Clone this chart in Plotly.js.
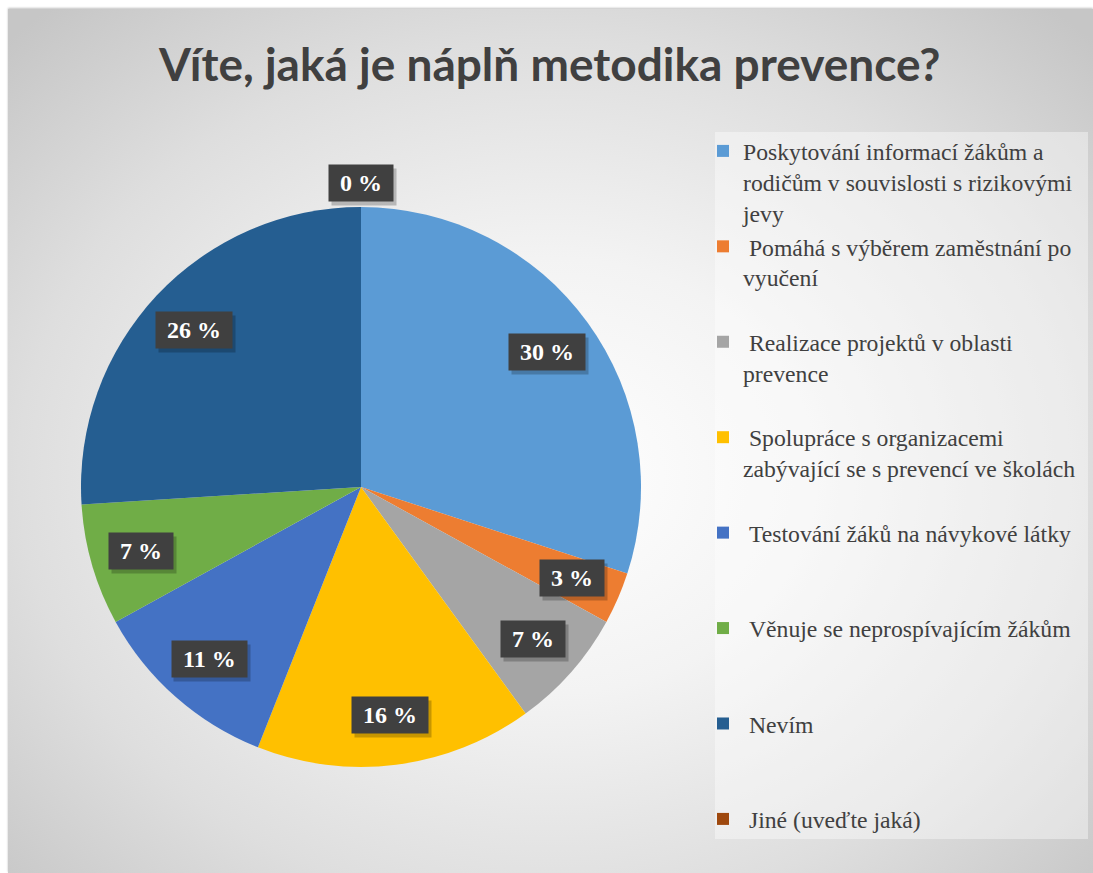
<!DOCTYPE html>
<html>
<head>
<meta charset="utf-8">
<script src="https://cdn.plot.ly/plotly-3.0.1.min.js"></script>
<style>
  html, body { margin: 0; padding: 0; background: #ffffff; }
  #bg {
    position: absolute; left: 8px; top: 9px; width: 1085px; height: 864px;
    background: radial-gradient(ellipse 70% 72% at 50% 54%, #ffffff 0%, #f3f3f3 35%, #dedede 70%, #c6c6c6 100%);
    box-shadow: 0 -1px 2px rgba(0,0,0,0.25);
  }
  #chart { position: absolute; left: 0; top: 0; width: 1093px; height: 873px; }
</style>
</head>
<body>
<div id="bg"></div>
<div id="chart"></div>
<script>
// ---- data ----
var categories = [
  "Poskytování informací žákům a<br>rodičům v souvislosti s rizikovými<br>jevy",
  "\u00a0Pomáhá s výběrem zaměstnání po<br>vyučení",
  "\u00a0Realizace projektů v oblasti<br>prevence",
  "\u00a0Spolupráce s organizacemi<br>zabývající se s prevencí ve školách",
  "\u00a0Testování žáků na návykové látky",
  "\u00a0Věnuje se neprospívajícím žákům",
  "\u00a0Nevím",
  "\u00a0Jiné (uveďte jaká)"
];
var values = [30, 3, 7, 16, 11, 7, 26, 0];
var colors = ["#5B9BD5", "#ED7D31", "#A5A5A5", "#FFC000", "#4472C4", "#70AD47", "#255E91", "#9E480E"];
var titleText = "Víte, jaká je náplň metodika prevence?";

// ---- layout geometry ----
var W = 1093, H = 873;
var cxPx = 361, cyPx = 487, R = 280;
var domX = [(cxPx - R) / W, (cxPx + R) / W];
var domY = [1 - (cyPx + R) / H, 1 - (cyPx - R) / H];

// pad legend entries (all but the last) to equal line counts so spacing is even
var maxLines = 3;
var legendLabels = categories.map(function (c, idx) {
  if (idx === categories.length - 1) return c;
  var n = c.split("<br>").length;
  var s = c;
  for (var i = n; i < maxLines; i++) s += "<br>\u00a0";
  return s;
});

// data label annotations placed along slice mid-angles
var total = values.reduce(function (a, b) { return a + b; }, 0);
var annotations = [];
var cum = 0;
values.forEach(function (v) {
  var mid = (cum + v / 2) / total;
  cum += v;
  var th = 2 * Math.PI * mid;
  var f = v > 0 ? 0.82 : 1.085;
  var px = cxPx + f * R * Math.sin(th);
  var py = cyPx - f * R * Math.cos(th);
  var txt = "\u00a0" + v + " %\u00a0";
  // blank spacer of equal width, used only for the box shadow
  var blank = txt.replace(/[0-9]/g, "\u2007").replace("%", "\u2007\u2007").replace(" ", "\u00a0");
  annotations.push({
    xref: "paper", yref: "paper", x: px / W, y: 1 - py / H,
    xanchor: "center", yanchor: "middle",
    xshift: 3, yshift: -4,
    text: blank, showarrow: false,
    font: { family: "Liberation Serif", size: 24, color: "rgba(0,0,0,0)", weight: 700 },
    bgcolor: "rgba(0,0,0,0.22)", borderpad: 5
  });
  annotations.push({
    xref: "paper", yref: "paper", x: px / W, y: 1 - py / H,
    xanchor: "center", yanchor: "middle",
    text: txt, showarrow: false,
    font: { family: "Liberation Serif", size: 24, color: "#ffffff", weight: 700 },
    bgcolor: "#404040", borderpad: 5
  });
});

var trace = {
  type: "pie",
  labels: legendLabels,
  values: values,
  sort: false,
  direction: "clockwise",
  rotation: 0,
  marker: { colors: colors, line: { width: 0 } },
  textinfo: "none",
  hoverinfo: "label+percent",
  domain: { x: domX, y: domY }
};

var layout = {
  width: W, height: H,
  margin: { l: 0, r: 0, t: 0, b: 0, autoexpand: false },
  paper_bgcolor: "rgba(0,0,0,0)",
  plot_bgcolor: "rgba(0,0,0,0)",
  title: {
    text: titleText,
    x: 0.503, xanchor: "center",
    y: 1 - 65 / H, yanchor: "middle",
    font: { family: "Lato", size: 46, color: "#404040", weight: 700 }
  },
  showlegend: true,
  legend: {
    x: 703 / W, xanchor: "left",
    y: 1 - 129 / H, yanchor: "top",
    bgcolor: "rgba(0,0,0,0)",
    valign: "top",
    maxheight: 2000,
    font: { family: "Liberation Serif", size: 23.7, color: "#404040" },
    traceorder: "normal"
  },
  shapes: [{
    type: "rect", xref: "paper", yref: "paper", layer: "below",
    x0: 715 / W, x1: 1088 / W, y0: 1 - 839 / H, y1: 1 - 132 / H,
    fillcolor: "rgba(255,255,255,0.4)", line: { width: 0 }
  }],
  annotations: annotations
};

Plotly.newPlot("chart", [trace], layout, { displayModeBar: false });
</script>
</body>
</html>
